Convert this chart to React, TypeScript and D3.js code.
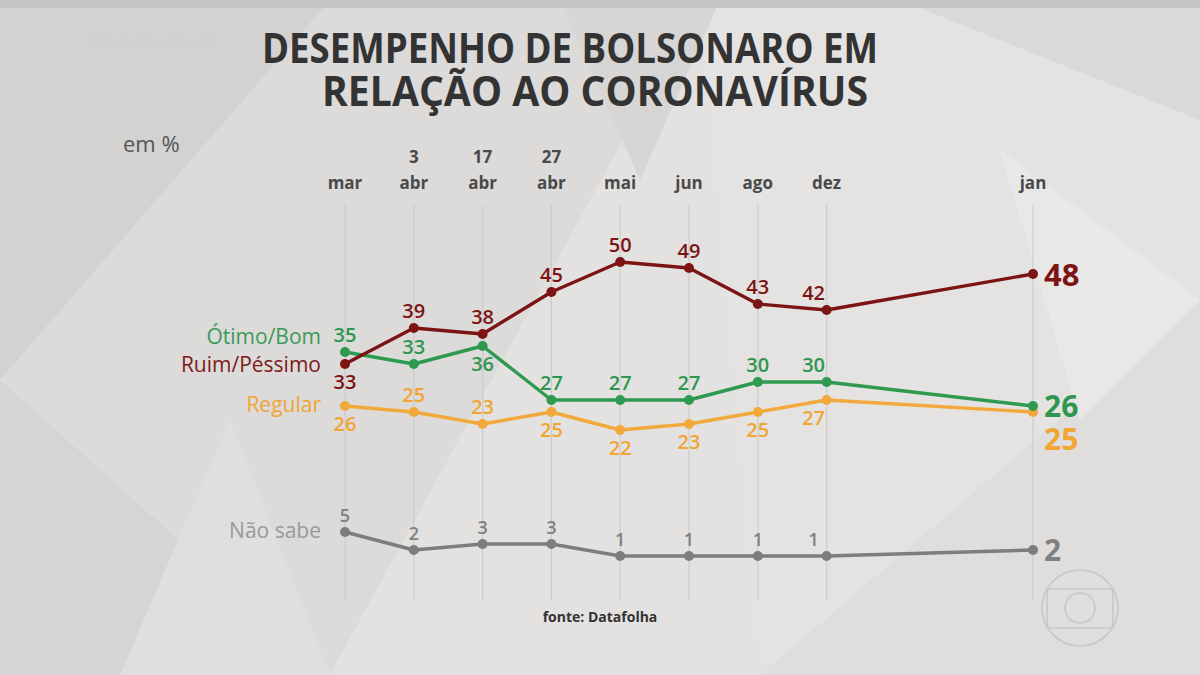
import React from "react";
import * as d3 from "d3";

const months = ["mar", "abr", "abr", "abr", "mai", "jun", "ago", "dez", "jan"];
const days = ["", "3", "17", "27", "", "", "", "", ""];
const slots = [0, 1, 2, 3, 4, 5, 6, 7, 10];

const ruimPessimo = [33, 39, 38, 45, 50, 49, 43, 42, 48];
const otimoBom = [35, 33, 36, 27, 27, 27, 30, 30, 26];
const regular = [26, 25, 23, 25, 22, 23, 25, 27, 25];
const naoSabe = [5, 2, 3, 3, 1, 1, 1, 1, 2];

const ruimPos = ["b", "a", "a", "a", "a", "a", "a", "a"];
const otimoPos = ["a", "a", "b", "a", "a", "a", "a", "a"];
const regularPos = ["b", "a", "a", "b", "b", "b", "b", "b"];
const naoSabePos = ["a", "a", "a", "a", "a", "a", "a", "a"];

const W = 1200;
const H = 675;
const FONT = "'Open Sans', Lato, sans-serif";

const x = d3.scaleLinear().domain([0, 10]).range([345, 1033]);
const y = d3.scaleLinear().domain([0, 50]).range([562, 262]);

type Series = {
  name: string;
  values: number[];
  pos: string[];
  color: string;
  labelColor: string;
  legendColor: string;
  legendDy: number;
  endDy: number;
  size: number;
  endSize: number;
};

const series: Series[] = [
  { name: "Não sabe", values: naoSabe, pos: naoSabePos, color: "#7d7d7d", labelColor: "#808080", legendColor: "#9a9a9a", legendDy: 6, endDy: 11, size: 18, endSize: 30 },
  { name: "Regular", values: regular, pos: regularPos, color: "#f2a93b", labelColor: "#f0a534", legendColor: "#f0a534", legendDy: 6, endDy: 38, size: 20, endSize: 30 },
  { name: "Ótimo/Bom", values: otimoBom, pos: otimoPos, color: "#2e9a50", labelColor: "#2f9650", legendColor: "#3a9a5a", legendDy: -8, endDy: 11, size: 20, endSize: 30 },
  { name: "Ruim/Péssimo", values: ruimPessimo, pos: ruimPos, color: "#7c1414", labelColor: "#7c1414", legendColor: "#7c1a1a", legendDy: 8, endDy: 12, size: 20, endSize: 31 },
];

const bgPolys: [string, string][] = [
  ["0,0 700,0 330,675 0,675", "#dcdbd9"],
  ["0,0 330,0 0,380", "#d3d2d0"],
  ["330,675 700,0 760,675", "#e3e2e0"],
  ["700,0 1200,0 1200,300 760,675", "#e4e3e1"],
  ["760,675 1200,300 1200,675", "#dfdedc"],
  ["900,0 1200,0 1200,120", "#dad9d7"],
  ["0,380 330,675 0,675", "#d6d5d3"],
  ["230,420 330,675 120,675", "#e0dfdd"],
  ["1000,150 1080,420 1200,300", "#e9e8e6"],
  ["560,0 720,0 640,180", "#d7d6d4"],
];

export default function App() {
  const line = d3
    .line<number>()
    .x((_, i) => x(slots[i]))
    .y((v) => y(v));

  return (
    <div style={{ position: "fixed", left: 0, top: 0, width: W, height: H }}>
      <svg width={W} height={H} viewBox={`0 0 ${W} ${H}`} style={{ display: "block" }}>
        <rect width={W} height={H} fill="#e3e2e0" />
        {bgPolys.map(([p, c], i) => (
          <polygon key={i} points={p} fill={c} />
        ))}
        <rect x={0} y={0} width={W} height={8} fill="#c6c5c3" />

        <text x={88} y={47} fontFamily={FONT} fontSize={16} fontWeight={600} fill="#d2d1cf">
          @jornalnacional
        </text>

        <text x={262} y={63} fontFamily={FONT} fontSize={41} fontWeight={700} fill="#333" textLength={616} lengthAdjust="spacingAndGlyphs">
          DESEMPENHO DE BOLSONARO EM
        </text>
        <text x={322} y={106} fontFamily={FONT} fontSize={41} fontWeight={700} fill="#333" textLength={546} lengthAdjust="spacingAndGlyphs">
          RELAÇÃO AO CORONAVÍRUS
        </text>

        <text x={123} y={152} fontFamily={FONT} fontSize={22} fill="#555">
          em %
        </text>

        {slots.map((s, i) => (
          <line key={"g" + i} x1={x(s)} x2={x(s)} y1={205} y2={600} stroke="#c9c9c9" strokeWidth={1.2} opacity={0.8} />
        ))}

        {slots.map((s, i) => (
          <g key={"t" + i} fontFamily={FONT} fontWeight={700} fill="#4a4a4a" textAnchor="middle">
            {days[i] && (
              <text x={x(s)} y={163} fontSize={17}>
                {days[i]}
              </text>
            )}
            <text x={x(s)} y={189} fontSize={17}>
              {months[i]}
            </text>
          </g>
        ))}

        {series.map((sr) => (
          <g key={sr.name}>
            <path d={line(sr.values) || ""} fill="none" stroke={sr.color} strokeWidth={3.4} strokeLinejoin="round" />
            {sr.values.map((v, i) => (
              <circle key={i} cx={x(slots[i])} cy={y(v)} r={5} fill={sr.color} />
            ))}
          </g>
        ))}

        {series.map((sr) => (
          <g key={"l" + sr.name} fontFamily={FONT} fontWeight={600} fill={sr.labelColor}>
            {sr.values.slice(0, -1).map((v, i) => (
              <text
                key={i}
                x={x(slots[i]) + (i === 7 ? -13 : 0)}
                y={sr.pos[i] === "a" ? y(v) - 10 : y(v) + 25}
                fontSize={sr.size}
                textAnchor="middle"
              >
                {v}
              </text>
            ))}
            <text
              x={x(slots[slots.length - 1]) + 11}
              y={y(sr.values[sr.values.length - 1]) + sr.endDy}
              fontSize={sr.endSize}
              fontWeight={700}
            >
              {sr.values[sr.values.length - 1]}
            </text>
            <text x={321} y={y(sr.values[0]) + sr.legendDy} fontSize={21} fontWeight={400} fill={sr.legendColor} textAnchor="end">
              {sr.name}
            </text>
          </g>
        ))}

        <text x={600} y={622} fontFamily={FONT} fontSize={14} fontWeight={700} fill="#333" textAnchor="middle">
          fonte: Datafolha
        </text>

        <g transform="translate(1080,608)" fill="none" stroke="#c6c6cf" strokeWidth={1.6}>
          <circle r={38} />
          <rect x={-33} y={-19} width={66} height={39} rx={3} />
          <circle r={15} />
        </g>
      </svg>
    </div>
  );
}
